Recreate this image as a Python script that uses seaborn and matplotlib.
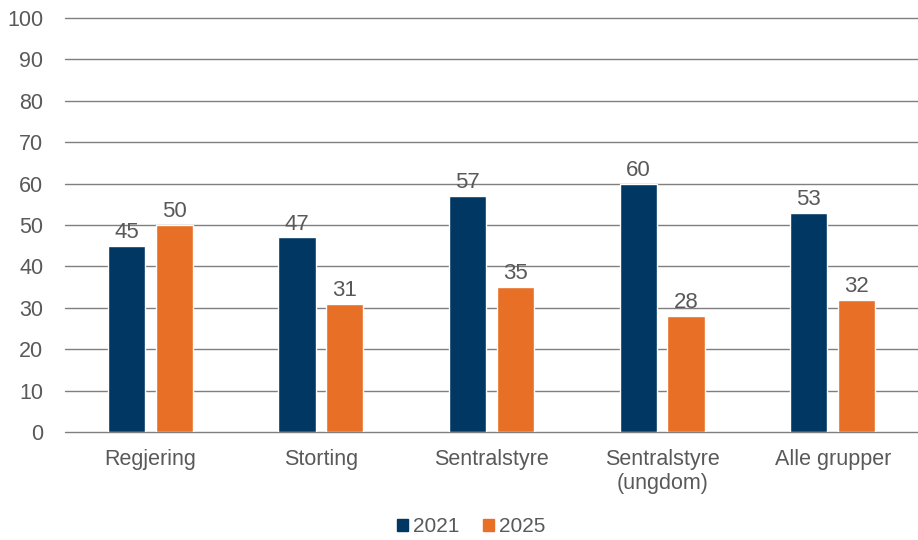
import pandas as pd
import seaborn as sns
from matplotlib import pyplot as plt
from matplotlib.patches import Patch

categories = ["Regjering", "Storting", "Sentralstyre", "Sentralstyre\n(ungdom)", "Alle grupper"]
years = ["2021", "2025"]
values_2021 = [45, 47, 57, 60, 53]
values_2025 = [50, 31, 35, 28, 32]

df = pd.DataFrame({
    "gruppe": categories * 2,
    "aar": ["2021"] * 5 + ["2025"] * 5,
    "verdi": values_2021 + values_2025,
})

colors = {"2021": "#003763", "2025": "#E86F26"}
txt = "#595959"

sns.set_style("white")
plt.rcParams["font.family"] = ["Liberation Sans", "DejaVu Sans"]

fig = plt.figure(figsize=(9.18, 5.4), dpi=100)
ax = fig.add_axes([65 / 918, 1 - 432 / 540, 1 - 65 / 918, (432 - 18) / 540])

sns.barplot(data=df, x="gruppe", y="verdi", hue="aar", palette=colors, saturation=1,
            width=0.56, gap=0.22, legend=False, ax=ax, zorder=3)

for c in ax.containers:
    ax.bar_label(c, fmt="%d", padding=2, fontsize=16, color=txt)

ax.set_ylim(0, 100)
ax.set_xlim(-0.5, 4.5)
ax.set_yticks(range(0, 101, 10))
ax.yaxis.grid(True, color="#7f7f7f", linewidth=1)
ax.set_axisbelow(True)
for line in ax.get_ygridlines():
    line.set_clip_on(False)
for s in ax.spines.values():
    s.set_visible(False)
ax.set_xlabel("")
ax.set_ylabel("")
ax.tick_params(axis="y", length=0, pad=15.5, labelsize=15.5, labelcolor=txt)
ax.tick_params(axis="x", length=0, pad=12, labelsize=15.5, labelcolor=txt)

handles = [Patch(color=colors[y], label=y) for y in years]
fig.legend(handles=handles, loc="center", bbox_to_anchor=(0.513, 1 - 527 / 540),
           ncol=2, frameon=False, fontsize=15, labelcolor=txt,
           handlelength=0.55, handleheight=0.55, handletextpad=0.2, columnspacing=1.15)

fig.savefig("out.png", dpi=100)
